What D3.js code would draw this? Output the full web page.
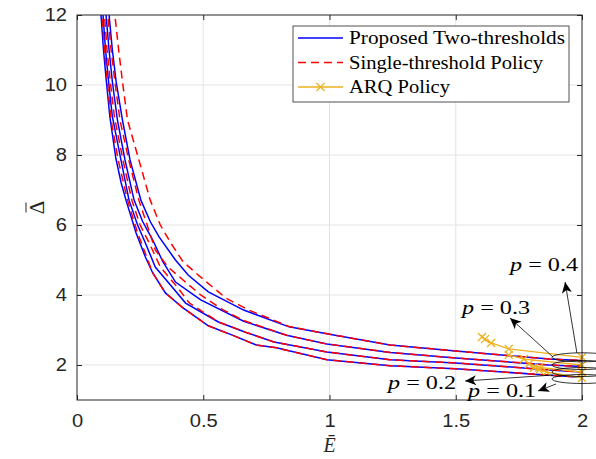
<!DOCTYPE html>
<html>
<head>
<meta charset="utf-8">
<script src="https://cdn.jsdelivr.net/npm/d3@7"></script>
<style>
body { margin: 0; background: #fff; }
svg { display: block; }
</style>
</head>
<body>
<div id="chart"></div>
<script>
// ---- data ----
var xTicks = [0, 0.5, 1, 1.5, 2];
var yTicks = [2, 4, 6, 8, 10, 12];
var pLabels = ["p = 0.1", "p = 0.2", "p = 0.3", "p = 0.4"];

// Proposed two-thresholds (blue)
var twoE1 = [0.088, 0.095, 0.105, 0.115, 0.13, 0.154, 0.175, 0.194, 0.234, 0.27, 0.30, 0.35, 0.42, 0.52, 0.62, 0.71, 0.79, 0.99, 1.24, 1.5, 1.87, 2.0];
var twoD1 = [13.0, 12.0, 11.0, 10.2, 9.1, 7.9, 7.2, 6.71, 5.77, 5.1, 4.63, 4.06, 3.63, 3.12, 2.84, 2.57, 2.49, 2.15, 1.98, 1.89, 1.71, 1.65];
var twoE2 = [0.095, 0.103, 0.113, 0.125, 0.14, 0.174, 0.206, 0.24, 0.27, 0.31, 0.38, 0.43, 0.56, 0.67, 0.78, 0.99, 1.24, 1.5, 1.87, 2.0];
var twoD2 = [13.0, 12.0, 11.0, 10.1, 9.1, 7.86, 6.71, 6.0, 5.5, 4.80, 4.2, 3.77, 3.23, 2.93, 2.66, 2.37, 2.15, 2.06, 1.86, 1.80];
var twoE3 = [0.105, 0.115, 0.127, 0.14, 0.16, 0.19, 0.226, 0.26, 0.30, 0.34, 0.39, 0.49, 0.66, 0.83, 0.99, 1.24, 1.5, 1.87, 2.0];
var twoD3 = [13.0, 12.0, 11.0, 10.1, 9.0, 7.86, 6.71, 6.1, 5.57, 4.95, 4.37, 3.86, 3.25, 2.85, 2.6, 2.36, 2.2, 2.0, 1.96];
var twoE4 = [0.117, 0.127, 0.14, 0.155, 0.18, 0.21, 0.253, 0.29, 0.325, 0.39, 0.44, 0.52, 0.66, 0.84, 1.0, 1.24, 1.5, 1.87, 2.0];
var twoD4 = [13.0, 12.0, 11.0, 10.1, 9.0, 7.86, 6.71, 6.1, 5.66, 5.0, 4.57, 4.09, 3.57, 3.09, 2.88, 2.57, 2.4, 2.17, 2.13];

// Single-threshold policy (red dashed)
var oneE1 = [0.092, 0.099, 0.109, 0.12, 0.135, 0.163, 0.2, 0.24, 0.30, 0.35, 0.42, 0.52, 0.62, 0.71, 0.79, 0.99, 1.24, 1.5, 1.87, 2.0];
var oneD1 = [13.0, 12.0, 11.0, 10.1, 9.0, 7.86, 6.71, 5.77, 4.63, 4.06, 3.63, 3.12, 2.84, 2.57, 2.49, 2.15, 1.98, 1.89, 1.71, 1.65];
var oneE2 = [0.1, 0.109, 0.119, 0.132, 0.148, 0.182, 0.217, 0.25, 0.285, 0.33, 0.40, 0.445, 0.56, 0.67, 0.78, 0.99, 1.24, 1.5, 1.87, 2.0];
var oneD2 = [13.0, 12.0, 11.0, 10.1, 9.1, 7.86, 6.71, 6.0, 5.5, 4.80, 4.2, 3.77, 3.23, 2.93, 2.66, 2.37, 2.15, 2.06, 1.86, 1.80];
var oneE3 = [0.115, 0.122, 0.135, 0.15, 0.17, 0.205, 0.245, 0.28, 0.31, 0.36, 0.42, 0.49, 0.58, 0.66, 0.83, 0.99, 1.24, 1.5, 1.87, 2.0];
var oneD3 = [13.0, 12.0, 11.0, 10.1, 9.0, 7.86, 6.71, 5.95, 5.29, 4.8, 4.43, 4.0, 3.57, 3.27, 2.85, 2.6, 2.36, 2.2, 2.0, 1.96];
var oneE4 = [0.14, 0.15, 0.165, 0.18, 0.2, 0.245, 0.29, 0.33, 0.37, 0.42, 0.48, 0.59, 0.68, 0.84, 1.0, 1.24, 1.5, 1.87, 2.0];
var oneD4 = [13.0, 12.0, 11.0, 10.1, 9.0, 7.86, 6.71, 6.0, 5.5, 4.95, 4.57, 3.91, 3.57, 3.1, 2.88, 2.57, 2.4, 2.17, 2.13];

// ARQ policy (yellow, x markers)
var arqE1 = [1.81, 1.83, 1.86, 2.0];
var arqD1 = [1.92, 1.86, 1.8, 1.63];
var arqE2 = [1.79, 1.83, 2.0];
var arqD2 = [2.03, 1.93, 1.8];
var arqE3 = [1.71, 1.77, 2.0];
var arqD3 = [2.29, 2.17, 2.0];
var arqE4 = [1.604, 1.616, 1.64, 1.71, 2.0];
var arqD4 = [2.8, 2.74, 2.63, 2.46, 2.22];

// ellipse groups at E = 2 (p = 0.1 .. 0.4)
var ringD = [1.6, 1.8, 2.0, 2.22];

var w = 596, h = 459;
var margin = { top: 15, right: 14, bottom: 59, left: 77 };

var svg = d3.select("#chart").append("svg")
	.attr("width", w)
	.attr("height", h);

var x = d3.scaleLinear().domain([0, 2]).range([margin.left, w - margin.right]);
var y = d3.scaleLinear().domain([1, 12]).range([h - margin.bottom, margin.top]);

var axisCol = "#262626";
var sans = "'Liberation Sans', Arial, sans-serif";
var serif = "'Liberation Serif', 'Times New Roman', serif";

svg.append("defs").append("clipPath").attr("id", "plotclip")
	.append("rect")
	.attr("x", x(0)).attr("y", y(12))
	.attr("width", x(2) - x(0)).attr("height", y(1) - y(12));

// grid
svg.append("g").selectAll("line").data(xTicks.slice(1, -1)).enter().append("line")
	.attr("x1", function(d) { return x(d); }).attr("x2", function(d) { return x(d); })
	.attr("y1", y(1)).attr("y2", y(12))
	.attr("stroke", "#e3e3e3").attr("stroke-width", 1);
svg.append("g").selectAll("line").data(yTicks.slice(0, -1)).enter().append("line")
	.attr("y1", function(d) { return y(d); }).attr("y2", function(d) { return y(d); })
	.attr("x1", x(0)).attr("x2", x(2))
	.attr("stroke", "#e3e3e3").attr("stroke-width", 1);

// axes (ticks inside)
function styleAxis(g, labels) {
	g.select(".domain").remove();
	g.selectAll(".tick line").attr("stroke", axisCol);
	g.selectAll("text").attr("fill", axisCol).style("font-family", sans).style("font-size", "17.5px");
	if (!labels) g.selectAll("text").remove();
	// the figure's glyphs are a little wider than the font's
	g.selectAll("text").each(function() {
		var len = this.getComputedTextLength();
		d3.select(this).attr("textLength", len * 1.15).attr("lengthAdjust", "spacingAndGlyphs");
	});
}
svg.append("g").attr("transform", "translate(0," + y(1) + ")")
	.call(d3.axisBottom(x).tickValues(xTicks).tickSize(-5).tickPadding(15).tickFormat(d3.format("")))
	.call(styleAxis, true);
svg.append("g").attr("transform", "translate(0," + y(12) + ")")
	.call(d3.axisTop(x).tickValues(xTicks).tickSize(-5))
	.call(styleAxis, false);
svg.append("g").attr("transform", "translate(" + x(0) + ",0)")
	.call(d3.axisLeft(y).tickValues(yTicks).tickSize(-5).tickPadding(10))
	.call(styleAxis, true);
svg.append("g").attr("transform", "translate(" + x(2) + ",0)")
	.call(d3.axisRight(y).tickValues(yTicks).tickSize(-5))
	.call(styleAxis, false);

// curves
var line = d3.line().x(function(d) { return x(d[0]); }).y(function(d) { return y(d[1]); });
function pts(es, ds) { return es.map(function(e, i) { return [e, ds[i]]; }); }

var plot = svg.append("g").attr("clip-path", "url(#plotclip)");

var blue = [pts(twoE1, twoD1), pts(twoE2, twoD2), pts(twoE3, twoD3), pts(twoE4, twoD4)];
var red = [pts(oneE1, oneD1), pts(oneE2, oneD2), pts(oneE3, oneD3), pts(oneE4, oneD4)];
var arq = [pts(arqE1, arqD1), pts(arqE2, arqD2), pts(arqE3, arqD3), pts(arqE4, arqD4)];

plot.selectAll(".blue").data(blue).enter().append("path")
	.attr("class", "blue").attr("d", line)
	.attr("fill", "none").attr("stroke", "#0000ff").attr("stroke-width", 1.5);
plot.selectAll(".red").data(red).enter().append("path")
	.attr("class", "red").attr("d", line)
	.attr("fill", "none").attr("stroke", "#ff0000").attr("stroke-width", 1.5)
	.attr("stroke-dasharray", "8,5");

var yellow = "#EDB120";
function cross(g, cx, cy) {
	g.append("path")
		.attr("d", "M" + (cx - 4) + "," + (cy - 4) + "L" + (cx + 4) + "," + (cy + 4) +
			"M" + (cx - 4) + "," + (cy + 4) + "L" + (cx + 4) + "," + (cy - 4))
		.attr("stroke", yellow).attr("stroke-width", 1.3);
}
var arqG = svg.append("g");
arq.forEach(function(s) {
	arqG.append("path").attr("d", line(s))
		.attr("fill", "none").attr("stroke", yellow).attr("stroke-width", 1.3);
	s.forEach(function(p) { cross(arqG, x(p[0]), y(p[1])); });
});

// box
svg.append("rect")
	.attr("x", x(0)).attr("y", y(12))
	.attr("width", x(2) - x(0)).attr("height", y(1) - y(12))
	.attr("fill", "none").attr("stroke", axisCol).attr("stroke-width", 1);

// ellipses + arrows + labels
svg.append("g").selectAll("ellipse").data(ringD).enter().append("ellipse")
	.attr("cx", x(2)).attr("cy", function(d) { return y(d); })
	.attr("rx", 30).attr("ry", 4.5)
	.attr("fill", "none").attr("stroke", "#000").attr("stroke-width", 0.8);

svg.append("defs").append("marker")
	.attr("id", "head").attr("markerUnits", "userSpaceOnUse")
	.attr("viewBox", "-12 -6 14 12").attr("refX", 0).attr("refY", 0)
	.attr("markerWidth", 14).attr("markerHeight", 12).attr("orient", "auto")
	.append("path").attr("d", "M0,0L-11,-5L-8,0L-11,5Z").attr("fill", "#000");

// [from E, from Δ, to E, to Δ, text E, text Δ]
var notes = [
	[1.897, 1.457, 1.826, 1.257, 1.549, 1.086],
	[1.885, 1.714, 1.537, 1.543, 1.232, 1.314],
	[1.885, 2.23, 1.715, 3.34, 1.525, 3.457],
	[1.98, 2.34, 1.933, 4.37, 1.715, 4.686]
];
var ann = svg.append("g");
notes.forEach(function(n, i) {
	ann.append("line")
		.attr("x1", x(n[0])).attr("y1", y(n[1]))
		.attr("x2", x(n[2])).attr("y2", y(n[3]))
		.attr("stroke", "#000").attr("stroke-width", 0.8)
		.attr("marker-end", "url(#head)");
	var t = ann.append("text")
		.attr("x", x(n[4])).attr("y", y(n[5]))
		.attr("textLength", 68).attr("lengthAdjust", "spacingAndGlyphs")
		.style("font-family", serif).style("font-size", "18px").attr("fill", "#000");
	t.append("tspan").style("font-style", "italic").text("p");
	t.append("tspan").text(" = " + pLabels[i].split("= ")[1]);
});

// axis labels
svg.append("text")
	.attr("x", x(1)).attr("y", 452)
	.attr("text-anchor", "middle")
	.style("font-family", serif).style("font-size", "20px").style("font-style", "italic")
	.attr("fill", axisCol).text("Ē");

var yl = svg.append("g").attr("transform", "translate(44," + ((y(1) + y(12)) / 2) + ") rotate(-90)");
yl.append("text").attr("x", 0).attr("y", 0).attr("text-anchor", "middle")
	.style("font-family", serif).style("font-size", "21px")
	.attr("fill", axisCol).text("Δ");
yl.append("line").attr("x1", -5).attr("x2", 5).attr("y1", -18).attr("y2", -18)
	.attr("stroke", axisCol).attr("stroke-width", 1);

// legend
var leg = svg.append("g");
leg.append("rect").attr("x", 293).attr("y", 26).attr("width", 276).attr("height", 76)
	.attr("fill", "#fff").attr("stroke", axisCol).attr("stroke-width", 0.8);
var legItems = [
	{ label: "Proposed Two-thresholds", color: "#0000ff", dash: null, len: 216 },
	{ label: "Single-threshold Policy", color: "#ff0000", dash: "8,5", len: 194 },
	{ label: "ARQ Policy", color: yellow, dash: null, len: 101 }
];
legItems.forEach(function(d, i) {
	var ly = 38 + i * 24.5;
	leg.append("line").attr("x1", 298).attr("x2", 343).attr("y1", ly).attr("y2", ly)
		.attr("stroke", d.color).attr("stroke-width", i == 2 ? 1.3 : 1.5)
		.attr("stroke-dasharray", d.dash);
	if (i == 2) cross(leg, 320.5, ly);
	leg.append("text").attr("x", 349).attr("y", ly + 6)
		.attr("textLength", d.len).attr("lengthAdjust", "spacingAndGlyphs")
		.style("font-family", serif).style("font-size", "18px").attr("fill", "#000")
		.text(d.label);
});
</script>
</body>
</html>
